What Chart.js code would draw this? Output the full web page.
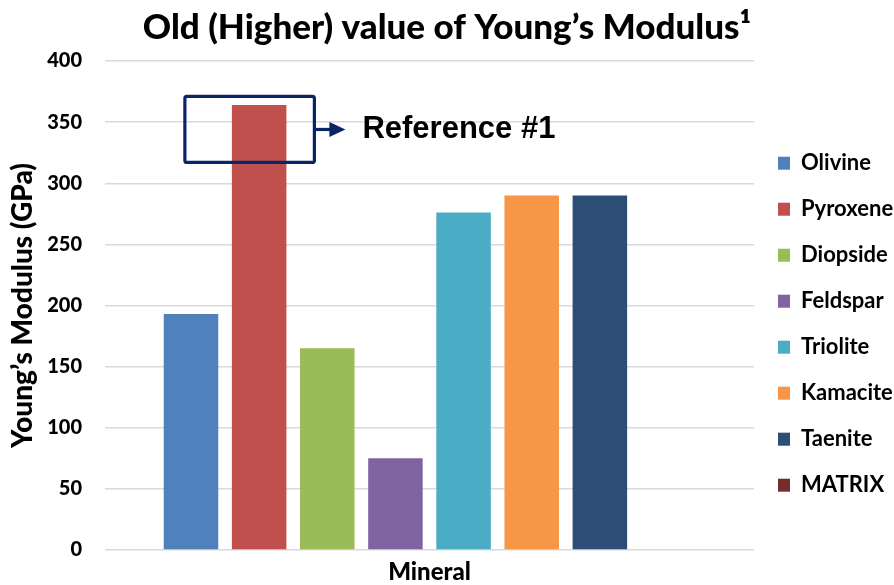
<!DOCTYPE html>
<html>
<head>
<meta charset="utf-8">
<script src="https://cdn.jsdelivr.net/npm/chart.js@4"></script>
<style>
  html, body { margin: 0; padding: 0; background: #fff; }
  #wrap { width: 894px; height: 585px; }
</style>
</head>
<body>
<div id="wrap"><canvas id="chart"></canvas></div>
<script>
const categories = ['Mineral'];
const minerals = ['Olivine', 'Pyroxene', 'Diopside', 'Feldspar', 'Triolite', 'Kamacite', 'Taenite', 'MATRIX'];
const modulus = [193, 364, 165, 75, 276, 290, 290, null];
const colors = ['#4f81bd', '#c0504d', '#9bbb59', '#8064a2', '#4bacc6', '#f79646', '#2c4d75', '#772c2a'];
const yTicks = [0, 50, 100, 150, 200, 250, 300, 350, 400];

const FONT = 'Lato, "Open Sans", sans-serif';

// box + arrow + text pointing at the Pyroxene bar
const referenceNote = {
  id: 'referenceNote',
  afterDatasetsDraw(chart) {
    const bar = chart.getDatasetMeta(1).data[0];
    if (!bar) return;
    const y = chart.scales.y;
    const ctx = chart.ctx;
    const left = bar.x - bar.width / 2 - 47;
    const right = bar.x + bar.width / 2 + 28;
    const top = y.getPixelForValue(371);
    const bottom = y.getPixelForValue(317);
    const mid = (top + bottom) / 2;

    ctx.save();
    ctx.strokeStyle = '#0b2466';
    ctx.fillStyle = '#0b2466';
    ctx.lineWidth = 3.2;
    ctx.beginPath();
    ctx.roundRect(left, top, right - left, bottom - top, 2);
    ctx.stroke();

    ctx.beginPath();
    ctx.moveTo(right, mid);
    ctx.lineTo(right + 17, mid);
    ctx.stroke();
    ctx.beginPath();
    ctx.moveTo(right + 31, mid);
    ctx.lineTo(right + 15, mid - 7.5);
    ctx.lineTo(right + 15, mid + 7.5);
    ctx.closePath();
    ctx.fill();

    ctx.fillStyle = '#000';
    ctx.font = 'bold 31px "Liberation Sans", Arial, sans-serif';
    ctx.textBaseline = 'middle';
    ctx.textAlign = 'left';
    ctx.fillText('Reference #1', right + 48, mid);
    ctx.restore();
  }
};

const ctx = document.getElementById('chart').getContext('2d');

new Chart(ctx, {
  type: 'bar',
  data: {
    labels: categories,
    datasets: minerals.map((name, i) => ({
      label: name,
      data: [modulus[i]],
      backgroundColor: colors[i],
      borderWidth: 0,
    })),
  },
  options: {
    responsive: true,
    maintainAspectRatio: false,
    animation: false,
    datasets: {
      bar: {
        categoryPercentage: 0.84,
        barPercentage: 0.8,
      },
    },
    layout: {
      padding: { top: 3, right: 0, bottom: 0, left: 0 },
    },
    scales: {
      x: {
        grid: { display: false, drawTicks: false },
        border: { display: false },
        afterFit: (scale) => { scale.height = 35; },
        ticks: {
          color: '#000',
          padding: 10,
          font: { family: FONT, size: 24, weight: 900, lineHeight: 1 },
        },
      },
      y: {
        min: 0,
        max: 400,
        afterBuildTicks: (scale) => {
          scale.ticks = yTicks.map((v) => ({ value: v }));
        },
        afterFit: (scale) => { scale.width = 105; },
        grid: { color: '#d9d9d9', lineWidth: 1.5, drawTicks: false },
        border: { display: false },
        ticks: {
          color: '#000',
          padding: 23,
          font: { family: FONT, size: 20, weight: 900 },
        },
        title: {
          display: true,
          text: 'Young’s Modulus (GPa)',
          color: '#000',
          padding: { top: 6, bottom: 8 },
          font: { family: FONT, size: 28, weight: 900 },
        },
      },
    },
    plugins: {
      title: {
        display: true,
        text: 'Old (Higher) value of Young’s Modulus¹',
        color: '#000',
        padding: { top: 4, bottom: 12 },
        font: { family: FONT, size: 35, weight: 900 },
      },
      legend: {
        position: 'right',
        maxWidth: 140,
        title: {
          display: true,
          text: ' ',
          padding: 23,
          font: { size: 12 },
        },
        labels: {
          color: '#000',
          boxWidth: 12,
          boxHeight: 13,
          padding: 24,
          font: { family: FONT, size: 22, weight: 'bold' },
        },
      },
      tooltip: { enabled: false },
    },
  },
  plugins: [referenceNote],
});
</script>
</body>
</html>
